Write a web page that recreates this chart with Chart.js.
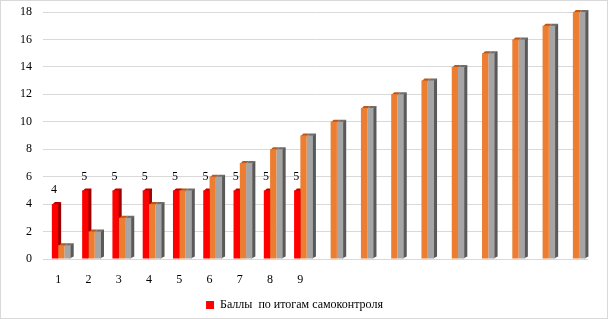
<!DOCTYPE html>
<html>
<head>
<meta charset="utf-8">
<script src="https://cdn.jsdelivr.net/npm/chart.js@4/dist/chart.umd.min.js"></script>
<style>
  html, body { margin: 0; padding: 0; background: #fff; }
  #wrap { width: 608px; height: 319px; box-sizing: border-box; border: 1px solid #d9d9d9; }
</style>
</head>
<body>
<div id="wrap"><canvas id="grafico" width="606" height="317"></canvas></div>
<script>
// категории и подписи оси X
const categorias = ['1','2','3','4','5','6','7','8','9','10','11','12','13','14','15','16','17','18'];
const rotulosX = ['1','2','3','4','5','6','7','8','9','','','','','','','','',''];

// ряды
const serieVazia = [null,null,null,null,null,null,null,null,null,null,null,null,null,null,null,null,null,null];
const ballySamokontrol = [4,5,5,5,5,5,5,5,5,null,null,null,null,null,null,null,null,null];
const serieLaranja = [1,2,3,4,5,6,7,8,9,10,11,12,13,14,15,16,17,18];
const serieCinza = [1,2,3,4,5,6,7,8,9,10,11,12,13,14,15,16,17,18];

const nomeSerie = 'Баллы  по итогам самоконтроля';
const ticksY = [0,2,4,6,8,10,12,14,16,18];

// cores do efeito 3D (lado, topo)
const cores3d = [
    null,
    { lado: '#9c0000', topo: '#c00000' },
    { lado: null, topo: '#b85a1e' },
    { lado: '#595959', topo: '#6e6e6e' }
];

const plugin3d = {
    id: 'efeito3d',
    beforeDatasetsDraw(chart) {
        const ctx = chart.ctx;
        const dx = 3, dy = 2;
        chart.data.datasets.forEach((ds, i) => {
            const c = cores3d[i];
            if (!c) return;
            chart.getDatasetMeta(i).data.forEach((bar, j) => {
                if (ds.data[j] == null) return;
                const esq = bar.x - bar.width / 2, dir = bar.x + bar.width / 2;
                const topo = bar.y, base = bar.base;
                if (c.lado) {
                    ctx.fillStyle = c.lado;
                    ctx.beginPath();
                    ctx.moveTo(dir - 1, topo);
                    ctx.lineTo(dir + dx, topo - dy);
                    ctx.lineTo(dir + dx, base - dy);
                    ctx.lineTo(dir - 1, base);
                    ctx.closePath();
                    ctx.fill();
                }
                ctx.fillStyle = c.topo;
                ctx.beginPath();
                ctx.moveTo(esq, topo + 1);
                ctx.lineTo(esq + dx, topo - dy);
                ctx.lineTo(dir + dx, topo - dy);
                ctx.lineTo(dir, topo + 1);
                ctx.closePath();
                ctx.fill();
            });
        });
    },
    afterDatasetsDraw(chart) {
        const ctx = chart.ctx;
        ctx.save();
        ctx.font = '12px "Liberation Serif"';
        ctx.fillStyle = '#000';
        ctx.textAlign = 'center';
        ctx.textBaseline = 'middle';
        chart.getDatasetMeta(1).data.forEach((bar, j) => {
            const v = ballySamokontrol[j];
            if (v == null) return;
            ctx.fillText(String(v), bar.x - 1, bar.y - 14);
        });
        ctx.restore();
    }
};

new Chart(document.getElementById('grafico'), {
    type: 'bar',
    data: {
        labels: categorias,
        datasets: [
            { label: '', data: serieVazia, backgroundColor: '#ff0000' },
            { label: nomeSerie, data: ballySamokontrol, backgroundColor: '#ff0000' },
            { label: '', data: serieLaranja, backgroundColor: '#ed7d31' },
            { label: '', data: serieCinza, backgroundColor: '#a5a5a5' }
        ]
    },
    options: {
        responsive: false,
        animation: false,
        layout: { padding: { top: 11, right: 19, bottom: -3, left: 0 } },
        datasets: { bar: { categoryPercentage: 0.83, barPercentage: 1.0 } },
        scales: {
            x: {
                grid: { display: false, drawTicks: false },
                border: { display: false },
                afterFit: (s) => { s.height = 39; },
                ticks: {
                    color: '#000',
                    font: { family: 'Liberation Serif', size: 12 },
                    padding: 14,
                    maxRotation: 0,
                    autoSkip: false,
                    callback: (v, i) => rotulosX[i]
                }
            },
            y: {
                min: 0,
                max: 18,
                afterBuildTicks: (s) => { s.ticks = ticksY.map(v => ({ value: v })); },
                afterFit: (s) => { s.width = 42; s.paddingTop = 0; s.paddingBottom = 0; },
                grid: { color: '#d9d9d9', drawTicks: false },
                border: { display: false },
                ticks: {
                    color: '#000',
                    font: { family: 'Liberation Serif', size: 12 },
                    padding: 11
                }
            }
        },
        plugins: {
            legend: {
                position: 'bottom',
                labels: {
                    filter: (item) => item.text !== '',
                    boxWidth: 8,
                    boxHeight: 8,
                    padding: 1,
                    color: '#000',
                    font: { family: 'Liberation Serif', size: 12 }
                }
            },
            tooltip: { enabled: false }
        }
    },
    plugins: [plugin3d]
});
</script>
</body>
</html>
